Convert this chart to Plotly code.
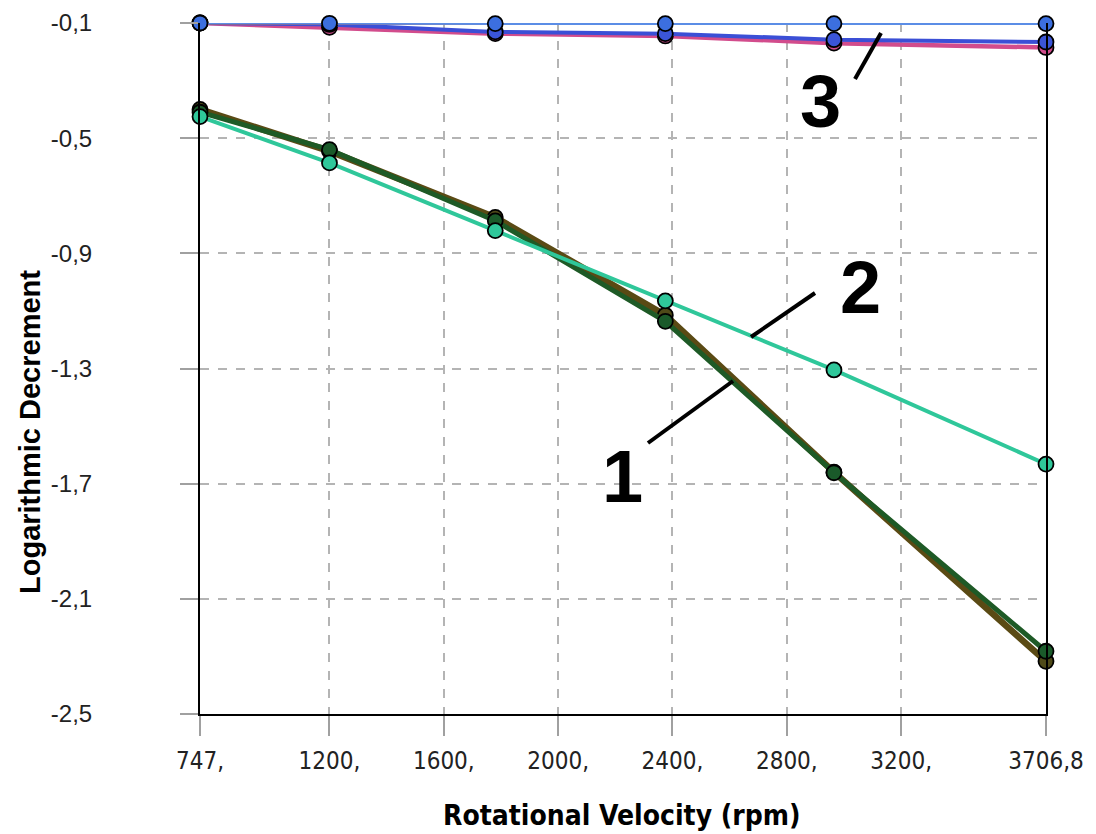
import plotly.graph_objects as go

# ---- data ----
rpm = [747, 1200, 1780, 2375, 2965, 3706.8]

s1_olive = [-0.400, -0.545, -0.775, -1.115, -1.660, -2.317]
s1_green = [-0.410, -0.540, -0.787, -1.136, -1.662, -2.282]
s2_teal = [-0.425, -0.586, -0.821, -1.065, -1.305, -1.632]

s3_red = [-0.100, -0.100, -0.100, -0.100, -0.100, -0.100]
s3_lightblue = [-0.100, -0.101, -0.102, -0.102, -0.102, -0.102]
s3_pink = [-0.100, -0.115, -0.137, -0.145, -0.170, -0.185]
s3_blue = [-0.100, -0.105, -0.131, -0.137, -0.158, -0.166]

x_tickvals = [747, 1200, 1600, 2000, 2400, 2800, 3200, 3706.8]
x_ticktext = ["747,", "1200,", "1600,", "2000,", "2400,", "2800,", "3200,", "3706,8"]
y_tickvals = [-0.1, -0.5, -0.9, -1.3, -1.7, -2.1, -2.5]
y_ticktext = ["-0,1", "-0,5", "-0,9", "-1,3", "-1,7", "-2,1", "-2,5"]

# ---- layout geometry (pixels) ----
W, H = 1096, 834
ML, MR, MT, MB = 200, 50, 23, 120
PW, PH = W - ML - MR, H - MT - MB


def px(x):
    return (x - ML) / PW


def py(y):
    return (H - MB - y) / PH


fig = go.Figure()


def add(y, line_color, width, marker_color, msize=15, show_marker=True):
    fig.add_trace(go.Scatter(
        x=rpm, y=y, mode="lines+markers" if show_marker else "lines",
        line=dict(color=line_color, width=width),
        marker=dict(color=marker_color, size=msize, symbol="circle",
                    line=dict(color="black", width=1.8)),
        cliponaxis=False, showlegend=False, hoverinfo="x+y"))


# group 3 (top)
add(s3_pink, "#d24c8c", 4.5, "#d24c8c")
add(s3_blue, "#3b4fd6", 4, "#3b55d8")
add(s3_red, "#c83c1e", 3.5, "#3c6fdf", show_marker=False)
add(s3_lightblue, "#5b8de6", 3, "#3c6fdf")
# group 1 and 2
add(s1_olive, "#5a4a14", 6.5, "#4f4a18")
add(s1_green, "#1e5a26", 5, "#1a5a2a")
add(s2_teal, "#2fc79a", 4, "#2fc79a")

grid = dict(showgrid=True, gridcolor="#b4b4b4", gridwidth=1.5, griddash="dash")

fig.update_xaxes(
    range=[747, 3706.8], tickvals=x_tickvals, ticktext=x_ticktext,
    showline=True, linecolor="black", linewidth=2, mirror=False,
    ticks="outside", ticklen=20, tickwidth=1.5, tickcolor="#a0a0a0",
    tickfont=dict(family="Liberation Sans Narrow, DejaVu Sans Condensed, sans-serif",
                  size=24, color="#222"),
    ticklabelstandoff=4, zeroline=False, **grid)
fig.update_yaxes(
    range=[-2.5, -0.1], tickvals=y_tickvals, ticktext=y_ticktext,
    showline=True, linecolor="black", linewidth=2, mirror=True,
    ticks="outside", ticklen=18, tickwidth=1.5, tickcolor="#a0a0a0",
    tickfont=dict(family="Liberation Sans, Arial, sans-serif", size=24, color="#222"),
    ticklabelstandoff=83, zeroline=False, **grid)

annotations = [
    dict(text="<b>Logarithmic Decrement</b>", x=px(30), y=py(432), textangle=-90,
         font=dict(family="Liberation Sans, Arial, sans-serif", size=29, color="black")),
    dict(text="<b>Rotational Velocity (rpm)</b>", x=px(622), y=py(815),
         font=dict(family="Liberation Sans Narrow, DejaVu Sans Condensed, sans-serif",
                   size=28, color="black")),
    dict(text="<b>3</b>", x=px(820), y=py(102),
         font=dict(family="Liberation Sans, Arial, sans-serif", size=74, color="black")),
    dict(text="<b>2</b>", x=px(860), y=py(287),
         font=dict(family="Liberation Sans, Arial, sans-serif", size=74, color="black")),
    dict(text="<b>1</b>", x=px(622), y=py(476),
         font=dict(family="Liberation Sans, Arial, sans-serif", size=74, color="black")),
]
for a in annotations:
    a.update(xref="paper", yref="paper", showarrow=False,
             xanchor="center", yanchor="middle")

leaders = [((855, 79), (881, 33)), ((751, 337), (815, 293)), ((648, 443), (733, 381))]
shapes = [dict(type="line", xref="paper", yref="paper",
               x0=px(a[0]), y0=py(a[1]), x1=px(b[0]), y1=py(b[1]),
               line=dict(color="black", width=4)) for a, b in leaders]

fig.update_layout(
    width=W, height=H, autosize=False,
    margin=dict(l=ML, r=MR, t=MT, b=MB, autoexpand=False),
    paper_bgcolor="white", plot_bgcolor="white",
    annotations=annotations, shapes=shapes, showlegend=False)

fig.write_html("out.html")
